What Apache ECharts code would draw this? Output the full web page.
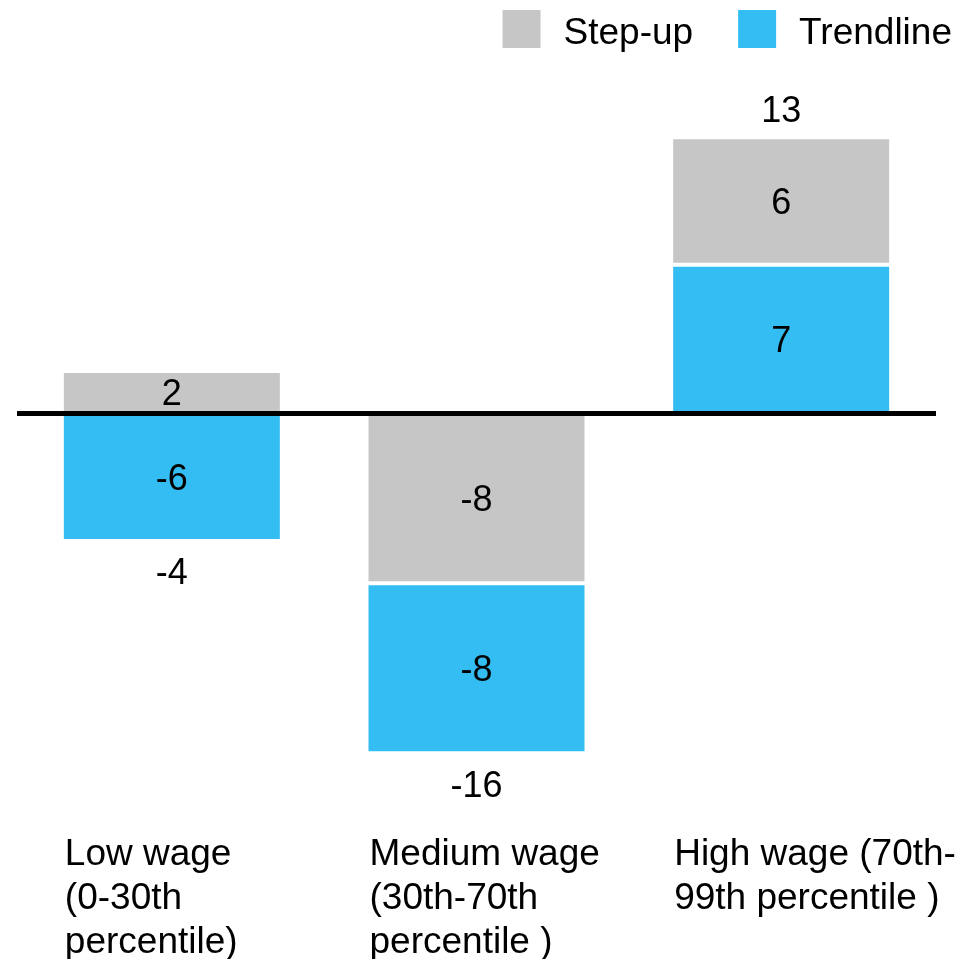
<!DOCTYPE html>
<html>
<head>
<meta charset="utf-8">
<script src="https://cdn.jsdelivr.net/npm/echarts@6/dist/echarts.min.js"></script>
<style>
  html, body { margin: 0; padding: 0; background: #fff; }
  #chart { width: 960px; height: 959px; }
</style>
</head>
<body>
<div id="chart"></div>
<script>
// Wage groups along the x axis
const categories = [
  'Low wage\n(0-30th\npercentile)',
  'Medium wage\n(30th-70th\npercentile )',
  'High wage (70th-\n99th percentile )'
];
// Contribution of each component per wage group
const stepUp = [2, -8, 6];
const trendline = [-6, -8, 7];
// Net change per group
const totals = stepUp.map((v, i) => v + trendline[i]);
// Outer edge of each stack on the side of its net change, where the net label goes
const stackEdge = totals.map((t, i) => t >= 0
  ? Math.max(stepUp[i], 0) + Math.max(trendline[i], 0)
  : Math.min(stepUp[i], 0) + Math.min(trendline[i], 0));

const FONT = "'Liberation Sans', Arial, Helvetica, sans-serif";
const GREY = '#c6c6c6';
const BLUE = '#33bdf2';

const barLabel = {
  show: true,
  position: 'inside',
  offset: [0, 3],
  fontSize: 36,
  fontFamily: FONT,
  color: '#000'
};
const barStyle = (color) => ({ color: color, borderColor: '#fff', borderWidth: 2 });

// On the negative side Step-up sits next to the axis; on the positive side Trendline does.
const stepUpNeg = stepUp.map(v => (v < 0 ? v : '-'));
const stepUpPos = stepUp.map(v => (v >= 0 ? v : '-'));

const chart = echarts.init(document.getElementById('chart'));
chart.setOption({
  animation: false,
  backgroundColor: '#fff',
  legend: {
    data: ['Step-up', 'Trendline'],
    right: 3,
    top: 5,
    icon: 'rect',
    itemWidth: 38,
    itemHeight: 38,
    itemGap: 45,
    itemStyle: { borderWidth: 0 },
    formatter: (name) => '{n|' + name + '}',
    textStyle: {
      fontSize: 37, fontFamily: FONT, color: '#000',
      rich: { n: { fontSize: 37, fontFamily: FONT, color: '#000', padding: [9, 0, 0, 18] } }
    }
  },
  grid: {
    left: 19.5, right: 26.5, top: 73.6, bottom: 142,
    containLabel: false,
    outerBoundsMode: 'none'
  },
  xAxis: [
    {
      type: 'category',
      data: categories,
      z: 10,
      axisLine: { show: true, onZero: true, lineStyle: { color: '#000', width: 5, cap: 'square' } },
      axisTick: { show: false },
      axisLabel: { show: false },
      splitLine: { show: false }
    },
    {
      type: 'category',
      data: categories,
      position: 'bottom',
      axisLine: { show: false, onZero: false },
      axisTick: { show: false },
      splitLine: { show: false },
      axisLabel: {
        interval: 0,
        margin: 16,
        align: 'center',
        verticalAlign: 'top',
        formatter: (v) => v.split('\n').map(s => '{t|' + s + '}').join('\n'),
        rich: {
          t: { width: 214, align: 'left', fontSize: 37, lineHeight: 44, fontFamily: FONT, color: '#000' }
        }
      }
    }
  ],
  yAxis: {
    type: 'value',
    min: -19,
    max: 16,
    show: false,
    splitLine: { show: false }
  },
  series: [
    {
      name: 'Step-up',
      type: 'bar',
      stack: 'total',
      barWidth: 220,
      data: stepUpNeg,
      itemStyle: barStyle(GREY),
      label: barLabel
    },
    {
      name: 'Trendline',
      type: 'bar',
      stack: 'total',
      barWidth: 220,
      data: trendline,
      itemStyle: barStyle(BLUE),
      label: barLabel
    },
    {
      name: 'Step-up',
      type: 'bar',
      stack: 'total',
      barWidth: 220,
      data: stepUpPos,
      itemStyle: barStyle(GREY),
      label: barLabel
    },
    {
      name: 'Net',
      type: 'scatter',
      symbolSize: 1,
      itemStyle: { color: 'transparent', opacity: 1 },
      z: 5,
      data: stackEdge.map((edge, i) => ({
        value: edge,
        label: { position: totals[i] >= 0 ? 'top' : 'bottom' }
      })),
      label: {
        show: true,
        distance: 11,
        offset: [0, 4],
        fontSize: 36,
        fontFamily: FONT,
        color: '#000',
        opacity: 1,
        formatter: (p) => String(totals[p.dataIndex])
      }
    }
  ]
});
</script>
</body>
</html>
